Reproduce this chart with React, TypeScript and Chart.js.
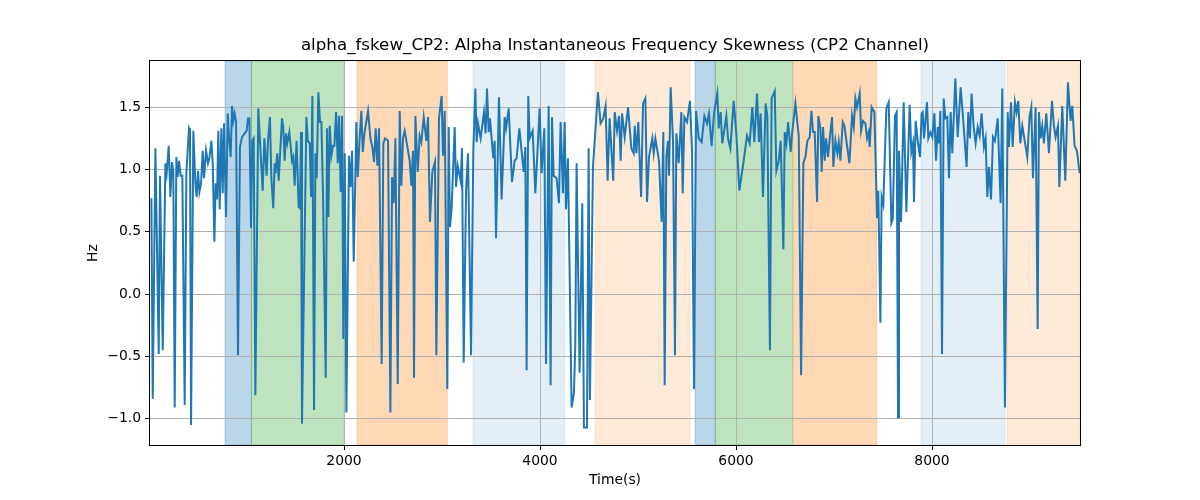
import Chart, { ChartConfiguration, Plugin } from "chart.js/auto";
import { useEffect, useRef } from "react";

const chartTitle = "alpha_fskew_CP2: Alpha Instantaneous Frequency Skewness (CP2 Channel)";
const xRange = [20, 9510];
const yRange = [-1.21, 1.87];
const xTicks = [2000, 4000, 6000, 8000];
const yTicks = [-1.0, -0.5, 0.0, 0.5, 1.0, 1.5];

// time (s) of each sample
const timeS = [
	34, 48, 75, 109, 122, 150, 177, 190, 211, 228, 245, 258, 272, 289, 303, 316, 333, 350, 374, 391,
	418, 428, 439, 462, 483, 496, 510, 524, 541, 558, 571, 592, 612, 626, 646, 660, 677, 690, 704, 717,
	731, 748, 762, 775, 796, 813, 826, 843, 857, 870, 884, 898, 918, 938, 959, 986, 1006, 1020, 1034, 1051,
	1064, 1078, 1095, 1125, 1142, 1170, 1187, 1210, 1224, 1244, 1258, 1278, 1292, 1302, 1319, 1333, 1367, 1380, 1394, 1408,
	1421, 1442, 1469, 1482, 1496, 1516, 1537, 1550, 1561, 1571,
	1616, 1630, 1650, 1664, 1677, 1694, 1708, 1721, 1738, 1755, 1769, 1786, 1813, 1827, 1840, 1854, 1871, 1888, 1902, 1919,
	1936, 1949, 1966, 1980, 1993, 2007, 2024, 2051, 2065, 2082, 2099, 2126, 2140, 2160, 2177, 2191, 2208, 2245, 2269, 2289,
	2306, 2323, 2340, 2357, 2384, 2401, 2418, 2449, 2473, 2490, 2507, 2524, 2548, 2568, 2585, 2602, 2619, 2670, 2687, 2704,
	2714, 2728, 2752, 2772, 2789, 2813, 2840, 2857, 2877, 2901, 2928, 2942, 2969, 2996, 3010, 3027, 3054, 3068, 3081, 3098,
	3129, 3143, 3160,
	3190, 3204, 3221, 3245, 3265, 3296, 3319, 3340, 3353, 3367, 3394, 3428, 3445, 3459, 3476, 3489, 3523, 3537, 3551, 3581,
	3608, 3639, 3653, 3680, 3714, 3741, 3761, 3789, 3833, 3850, 3863, 3880, 3894, 3925, 3952, 3996, 4016, 4044, 4061, 4088,
	4108, 4122, 4139, 4169, 4193, 4210, 4234, 4251, 4265, 4285, 4322, 4346, 4360, 4373, 4404, 4431, 4448, 4479, 4496, 4509,
	4540, 4591, 4618, 4645, 4669, 4690, 4710, 4747,
	4762, 4786, 4806, 4823, 4837, 4864, 4898, 4932, 4956, 4966, 4983, 5003, 5031, 5051, 5075, 5092, 5112, 5146, 5160, 5177,
	5214, 5241, 5258, 5272, 5289, 5306, 5316, 5333, 5357, 5377, 5391, 5415, 5442, 5456, 5473, 5500, 5530, 5551, 5571, 5592,
	5619, 5649, 5677, 5704, 5724, 5751, 5775, 5809, 5823, 5843, 5860, 5901, 5918, 5942, 5976, 6003, 6034, 6078, 6112, 6139,
	6166, 6187, 6214, 6234, 6251, 6275, 6302, 6319, 6346, 6363,
	6395, 6405, 6412, 6436, 6456, 6483, 6497, 6514, 6531, 6558, 6572, 6606, 6626, 6640, 6664, 6687, 6708, 6728, 6752, 6769,
	6786, 6803, 6827, 6840, 6861, 6874, 6888, 6905, 6919, 6939, 6959, 6980, 6993, 7014, 7034, 7048, 7065, 7089, 7106, 7157,
	7184, 7201, 7218, 7235, 7262, 7276, 7296, 7320, 7337, 7354, 7364, 7384, 7412, 7439, 7452, 7473, 7486, 7503, 7534, 7558,
	7585, 7599, 7622, 7639, 7653, 7663, 7684, 7711, 7738, 7772, 7789, 7806, 7816, 7833, 7854, 7877, 7894, 7905, 7918, 7949,
	7962, 7983, 8003, 8024, 8041, 8058, 8071, 8085, 8102, 8119, 8136, 8156, 8173, 8190, 8207, 8238, 8262, 8292, 8316, 8353,
	8370, 8387, 8404, 8425, 8445, 8466, 8486, 8506, 8530, 8547, 8564, 8581, 8602, 8622, 8642, 8670, 8700, 8717, 8744, 8772,
	8785, 8806, 8823, 8846, 8863, 8880, 8901, 8921, 8972, 8996, 9013, 9030, 9057, 9078, 9091, 9108, 9125, 9142, 9166, 9193,
	9224, 9244, 9261, 9285, 9299, 9329, 9360, 9387, 9414, 9431, 9455, 9479, 9506,
];

// skewness (Hz) at each sample
const fskewHz = [
	0.77, -0.84, 1.17, -0.48, 0.95, -0.45, 1.05, 0.97, 1.19, 0.78, 1.06, 0.98, -0.91, 1.1, 0.94, 1.07, 0.95, 0.95, -0.89, 0.97,
	1.33, 1.31, -1.05, 1.31, 0.89, 0.78, 0.99, 0.82, 0.89, 1.15, 0.93, 1.15, 1.05, 1.09, 1.23, 1.05, 0.42, 0.89, 0.76, 1.31,
	0.68, 1.33, 0.81, 1.37, 0.62, 1.45, 1.26, 1.1, 1.51, 1.39, 1.45, 1.38, -0.49, 1.18, 1.26, 1.29, 1.31, 1.41, 1.41, 0.53,
	1.23, 1.25, -0.81, 1.49, 1.23, 0.83, 1.25, 0.95, 1.23, 1.42, 0.94, 0.69, 1.05, 0.97, 1.13, 0.91, 1.41, 1.34, 1.07, 1.29,
	1.21, 1.3, 1.07, 1.1, 0.87, 1.23, 0.7, 0.69, 1.3, -1.04,
	1.42, 1.23, 1.21, 0.78, 1.59, -0.93, 1.13, 0.93, 1.62, 1.38, 1.38, 0.78, -0.67, 1.33, 0.62, 1.35, 1.11, 1.19, 1.19, 1.46,
	1.05, 1.43, 0.82, 1.43, -0.36, 1.13, -0.95, 1.11, 0.86, 1.15, 0.26, 1.38, 0.94, 1.26, 1.47, 1.14, 1.29, 1.47, 1.25, 1.18,
	1.06, 1.33, 1.03, 1.33, -0.56, 1.21, 1.25, 1.23, -0.95, 0.94, 0.73, 1.25, -0.72, 1.47, 0.87, 1.25, 1.31, 1.07, 0.87, 1.15,
	-0.67, 1.43, 0.98, 1.27, 1.22, 1.42, 1.23, 1.42, 0.58, 0.98, 1.06, -0.49, 1.41, 1.59, 1.11, 1.47, -0.76, 1.34, 0.54, 0.69,
	1.34, 0.86, 1.03,
	0.91, 1.17, -0.55, 0.83, 1.13, -0.49, 1.15, 1.65, 1.22, 1.37, 1.25, 1.46, 1.29, 1.65, 1.3, 1.41, 1.09, 1.23, 0.45, 1.58,
	0.76, 1.42, 1.33, 1.49, 0.9, 1.07, 1.09, 1.33, 0.98, 1.18, -0.61, 1.59, 1.25, 1.31, 0.81, 1.49, 0.97, 1.33, -0.56, 1.51,
	-0.73, 1.42, 0.95, 0.93, 0.73, 1.38, 0.81, 1.38, 0.68, 1.09, -0.91, -0.79, -0.4, 1.05, -0.63, 0.73, -1.07, -1.07, 1.17, -0.85,
	1.02, 1.62, 1.37, 1.41, 1.51, 0.91, 1.41, 0.91,
	1.46, 1.31, 1.43, 1.07, 1.45, 1.26, 1.5, 1.17, 1.13, 1.35, 1.13, 1.38, 0.78, 1.53, 1.57, 0.74, 1.1, 1.25, 1.13, 1.25,
	1.07, 0.58, 1.3, -0.73, 1.11, 1.23, 0.95, 1.66, 1.23, -0.49, 1.29, 1.05, 1.46, 0.81, 1.42, 1.38, 1.55, 1.15, -0.76, 1.47,
	1.25, 1.22, 1.43, 1.37, 1.45, 1.19, 1.45, 1.61, 1.33, 1.46, 1.21, 1.43, 1.25, 1.17, 1.55, 1.29, 0.83, 1.07, 1.27, 1.21,
	1.5, 1.22, 1.61, 1.22, 1.45, 0.78, 1.53, 1.43, -0.45, 1.57,
	1.63, 1.23, 0.99, 1.07, 1.23, 0.36, 1.3, 1.21, 1.38, 1.14, 1.29, 1.53, 1.37, 1.27, -0.65, 1.05, 1.1, 1.23, 1.26, 1.47,
	1.3, 1.3, 0.74, 1.43, 1.33, 0.98, 1.34, 1.07, 1.25, 1.1, 1.27, 1.42, 1.02, 1.23, 1.13, 1.22, 1.07, 1.38, 1.35, 1.05,
	1.43, 1.34, 1.57, 1.5, 1.61, 1.31, 1.39, 1.37, 1.25, 1.3, 1.18, 1.5, 1.46, 0.61, 0.83, -0.23, 0.78, 0.72, 1.49, 1.54,
	0.57, 0.6, 1.43, 1.46, -0.99, 1.15, 0.58, 1.54, 0.66, 1.52, 1.14, 1.21, 0.74, 1.39, 1.23, 1.1, 1.45, 1.46, 1.25, 1.54,
	1.25, 1.3, 1.26, 1.45, 1.07, 1.34, 1.21, 1.47, -0.48, 1.57, 1.41, 1.42, 0.93, 1.46, 1.13, 1.73, 1.26, 1.66, 1.42, 1.02,
	1.46, 1.25, 1.61, 1.34, 1.21, 1.34, 1.27, 1.45, 1.18, 1.25, 0.78, 1.02, 0.76, 1.26, 1.23, 1.41, 0.73, 1.65, -0.91, 1.46,
	1.18, 1.54, 1.18, 1.54, 1.46, 1.55, 1.21, 1.35, 1.1, 1.43, 1.5, 0.93, 1.5, -0.28, 1.46, 1.25, 1.35, 1.21, 1.45, 1.13,
	1.55, 1.35, 1.26, 1.35, 0.86, 1.51, 0.91, 1.7, 1.39, 1.51, 1.19, 1.15, 0.97,
];

// shaded time spans
const spanStart = [786, 1055, 2133, 3316, 4561, 5582, 5788, 6585, 7888, 8765];
const spanEnd = [1055, 2002, 3053, 4252, 5531, 5788, 6578, 7435, 8745, 9510];
const spanColor = [
	"rgba(31,119,180,0.3)",
	"rgba(44,160,44,0.3)",
	"rgba(255,127,14,0.3)",
	"rgba(31,119,180,0.12)",
	"rgba(255,127,14,0.16)",
	"rgba(31,119,180,0.3)",
	"rgba(44,160,44,0.3)",
	"rgba(255,127,14,0.3)",
	"rgba(31,119,180,0.12)",
	"rgba(255,127,14,0.16)",
];

const fmt = (v: number) => v.toFixed(1).replace("-", "\u2212");

const spansPlugin: Plugin<"line"> = {
	id: "spans",
	beforeDraw(chart) {
		const { ctx, chartArea, scales } = chart;
		ctx.save();
		ctx.beginPath();
		ctx.rect(chartArea.left, chartArea.top, chartArea.width, chartArea.height);
		ctx.clip();
		spanStart.forEach((s, i) => {
			const x0 = scales.x.getPixelForValue(s);
			const x1 = scales.x.getPixelForValue(spanEnd[i]);
			ctx.fillStyle = spanColor[i];
			ctx.fillRect(x0, chartArea.top, x1 - x0, chartArea.height);
			ctx.strokeStyle = spanColor[i];
			ctx.lineWidth = 1;
			ctx.strokeRect(x0, chartArea.top, x1 - x0, chartArea.height);
		});
		ctx.restore();
	},
};

const framePlugin: Plugin<"line"> = {
	id: "frame",
	afterDraw(chart) {
		const { ctx, chartArea } = chart;
		ctx.save();
		ctx.strokeStyle = "#000";
		ctx.lineWidth = 1;
		ctx.strokeRect(
			Math.round(chartArea.left) - 0.5,
			Math.round(chartArea.top) - 0.5,
			Math.round(chartArea.width) + 1,
			Math.round(chartArea.height) + 1,
		);
		ctx.restore();
	},
};

const App = () => {
	const chartRef = useRef<HTMLCanvasElement | null>(null);

	useEffect(() => {
		if (!chartRef.current) return;
		const ctx = chartRef.current.getContext("2d");
		if (!ctx) return;

		Chart.defaults.font.family = "'DejaVu Sans', sans-serif";
		Chart.defaults.color = "#000";

		const points = timeS.map((t, i) => ({ x: t, y: fskewHz[i] }));

		const config: ChartConfiguration<"line"> = {
			type: "line",
			data: {
				datasets: [
					{
						data: points,
						borderColor: "#1f77b4",
						borderWidth: 2,
						pointRadius: 0,
						tension: 0,
					},
				],
			},
			options: {
				animation: false,
				responsive: false,
				devicePixelRatio: 1,
				layout: { padding: { left: 0, right: 120, top: 0, bottom: 0 } },
				plugins: {
					legend: { display: false },
					tooltip: { enabled: false },
					title: {
						display: true,
						text: chartTitle,
						fullSize: false,
						font: { size: 16.7, weight: "normal" },
						color: "#000",
						padding: { top: 36, bottom: 5 },
					},
				},
				scales: {
					x: {
						type: "linear",
						min: xRange[0],
						max: xRange[1],
						afterBuildTicks: (scale) => {
							scale.ticks = xTicks.map((v) => ({ value: v }));
						},
						afterFit: (scale) => {
							scale.height = 55;
						},
						ticks: {
							font: { size: 13.9 },
							color: "#000",
							padding: 3,
							maxRotation: 0,
							callback: (v) => String(v),
						},
						grid: { color: "#b0b0b0", lineWidth: 1, tickColor: "#000", tickLength: 5 },
						border: { display: false },
						title: {
							display: true,
							text: "Time(s)",
							font: { size: 13.9 },
							color: "#000",
							padding: { top: 0, bottom: 11 },
						},
					},
					y: {
						type: "linear",
						min: yRange[0],
						max: yRange[1],
						afterBuildTicks: (scale) => {
							scale.ticks = yTicks.map((v) => ({ value: v }));
						},
						afterFit: (scale) => {
							scale.width = 150;
						},
						ticks: {
							font: { size: 13.9 },
							color: "#000",
							padding: 4,
							callback: (v) => fmt(Number(v)),
						},
						grid: { color: "#b0b0b0", lineWidth: 1, tickColor: "#000", tickLength: 5 },
						border: { display: false },
						title: {
							display: true,
							text: "Hz",
							font: { size: 13.9 },
							color: "#000",
							padding: { top: 85, bottom: 0 },
						},
					},
				},
			},
			plugins: [spansPlugin, framePlugin],
		};

		const myChart = new Chart(ctx, config);
		return () => {
			myChart.destroy();
		};
	}, []);

	return (
		<div style={{ position: "fixed", left: 0, top: 0, width: 1200, height: 500, background: "#fff" }}>
			<canvas ref={chartRef} width={1200} height={500} />
		</div>
	);
};

export default App;
